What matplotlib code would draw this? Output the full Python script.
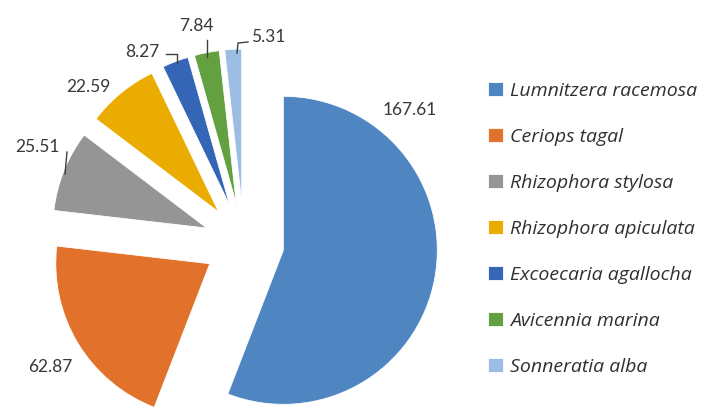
import matplotlib
matplotlib.use('Agg')
import matplotlib.pyplot as plt

species = ['Lumnitzera racemosa', 'Ceriops tagal', 'Rhizophora stylosa',
           'Rhizophora apiculata', 'Excoecaria agallocha', 'Avicennia marina',
           'Sonneratia alba']
values = [167.61, 62.87, 25.51, 22.59, 8.27, 7.84, 5.31]
colors = ['#4F86C1', '#E2722B', '#959595', '#EAAC00', '#3565B5', '#63A140', '#9CBDE4']

# layout, in pixels (image coords, y down)
W, H = 701, 408
CX, CY, R = 244, 243, 154
EXPLODE = 40
label_xy = [(410, 110), (50, 367), (37, 147), (88, 87), (142, 52), (196, 26), (268, 37)]
leaders = [
    None, None,
    [(67, 152), (65, 174)],
    None,
    [(166, 54), (177, 54), (177, 63)],
    [(207, 40), (207, 57)],
    [(248, 42), (238, 43), (237, 53)],
]

fig = plt.figure(figsize=(W / 100, H / 100), dpi=100)
ax = fig.add_axes([0, 0, 1, 1])

# explode is in data units here (pixels)
wedges, _ = ax.pie(values, colors=colors, startangle=90, counterclock=False,
                   center=(CX, H - CY), radius=R, explode=[EXPLODE] * len(values),
                   wedgeprops=dict(edgecolor='white', linewidth=0.6))
ax.set_xlim(0, W)
ax.set_ylim(0, H)
ax.set_aspect('equal')
ax.axis('off')

for v, (x, y) in zip(values, label_xy):
    ax.text(x, H - y, f'{v:.2f}', ha='center', va='center', fontsize=12.5,
            color='#383838', family='Lato')

for pts in leaders:
    if pts:
        ax.plot([p[0] for p in pts], [H - p[1] for p in pts], color='#404040', lw=1)

fig.legend(wedges, species, loc='upper left', bbox_to_anchor=(470 / W, 1 - 64 / H),
           frameon=False, handlelength=0.8, handleheight=0.8, handletextpad=0.35,
           labelspacing=1.43, prop=dict(family='Open Sans', style='italic', size=14),
           labelcolor='#303030')

fig.savefig('out.png', dpi=100)
